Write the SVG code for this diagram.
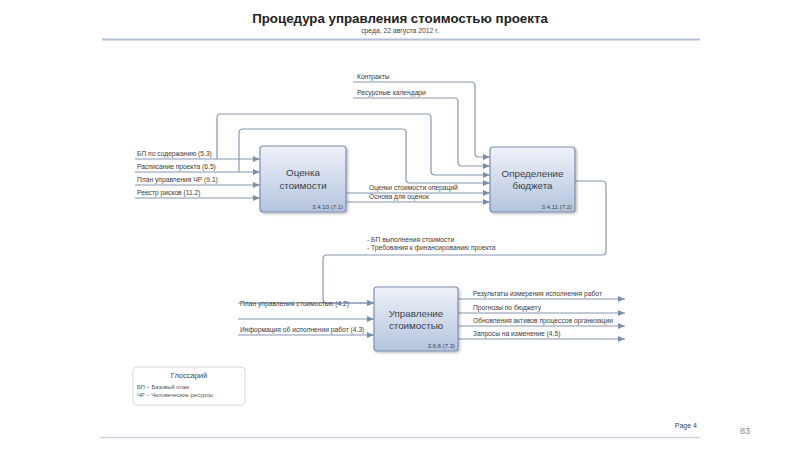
<svg xmlns="http://www.w3.org/2000/svg" width="800" height="450" viewBox="0 0 800 450">
<defs>
<linearGradient id="boxg" x1="0" y1="0" x2="0" y2="1">
<stop offset="0" stop-color="#eef2f9"/>
<stop offset="1" stop-color="#b4c4de"/>
</linearGradient>
<filter id="sh" x="-10%" y="-10%" width="130%" height="130%">
<feDropShadow dx="1.5" dy="1.5" stdDeviation="1.2" flood-color="#000" flood-opacity="0.25"/>
</filter>
<marker id="ah" markerWidth="8" markerHeight="6" refX="7" refY="3" orient="auto" markerUnits="userSpaceOnUse">
<path d="M0,0 L7,3 L0,6 Z" fill="#7f8fab"/>
</marker>
</defs>
<style>
text{font-family:"Liberation Sans",Arial,sans-serif;fill:#3a3a3a}
.lbl{font-size:6.7px}
.box{fill:url(#boxg);stroke:#7d8db0;stroke-width:1.2;filter:url(#sh)}
.bt{font-size:9.8px;text-anchor:middle;fill:#3a3f4a}
.num{font-size:6px;text-anchor:end;fill:#3a3f4a}
.c{fill:none;stroke:#8696b0;stroke-width:1.2}
.a{marker-end:url(#ah)}
</style>
<rect width="800" height="450" fill="#fff"/>
<g id="header">
<text x="400" y="23" font-size="13.3" font-weight="bold" text-anchor="middle" style="fill:#222">Процедура управления стоимостью проекта</text>
<text x="400" y="33" font-size="6.8" text-anchor="middle" style="fill:#444">среда, 22 августа 2012 г.</text>
<line x1="102" y1="39.5" x2="700" y2="39.5" stroke="#b3c2d6" stroke-width="2"/>
</g>
<g id="connectors">
<path class="c a" d="M135,159 H260"/>
<path class="c a" d="M135,172 H260"/>
<path class="c a" d="M135,185 H260"/>
<path class="c a" d="M135,198 H260"/>
<path class="c a" d="M217,159 V118 Q217,114 221,114 H427 Q431,114 431,118 V171 Q431,175 435,175 H490"/>
<path class="c a" d="M239,172 V133 Q239,129 243,129 H402 Q406,129 406,133 V179 Q406,183 410,183 H490"/>
<path class="c a" d="M353,82 H471 Q475,82 475,86 V153 Q475,157 479,157 H490"/>
<path class="c a" d="M353,98 H454 Q458,98 458,102 V162 Q458,166 462,166 H490"/>
<path class="c a" d="M346,193 H490"/>
<path class="c a" d="M346,202 H490"/>
<path class="c a" d="M575,181 H602 Q606,181 606,185 V251 Q606,255 602,255 H327 Q323,255 323,259 V299 Q323,303 327,303 H374"/>
<path class="c a" d="M238,303 H374"/>
<path class="c a" d="M238,319 H374"/>
<path class="c a" d="M238,335 H374"/>
<path class="c a" d="M458,299 H625"/>
<path class="c a" d="M458,313 H625"/>
<path class="c a" d="M458,326 H625"/>
<path class="c a" d="M458,339 H625"/>
</g>
<g id="labels">
<text class="lbl" x="137" y="156">БП по содержанию (5.3)</text>
<text class="lbl" x="137" y="169">Расписание проекта (6.5)</text>
<text class="lbl" x="137" y="182">План управления ЧР (9.1)</text>
<text class="lbl" x="137" y="195">Реестр рисков (11.2)</text>
<text class="lbl" x="357" y="79">Контракты</text>
<text class="lbl" x="357" y="95">Ресурсные календари</text>
<text class="lbl" x="369" y="190">Оценки стоимости операций</text>
<text class="lbl" x="369" y="199">Основа для оценок</text>
<text class="lbl" x="367" y="242">- БП выполнения стоимости</text>
<text class="lbl" x="367" y="250">- Требования к финансированию проекта</text>
<text class="lbl" x="240" y="306">План управления стоимостью (4.2)</text>
<text class="lbl" x="240" y="332">Информация об исполнении работ (4.3)</text>
<text class="lbl" x="473" y="296">Результаты измерения исполнения работ</text>
<text class="lbl" x="473" y="310">Прогнозы по бюджету</text>
<text class="lbl" x="473" y="323">Обновления активов процессов организации</text>
<text class="lbl" x="473" y="336">Запросы на изменение (4.5)</text>
</g>
<g id="node-estimate">
<rect class="box" x="260" y="146" width="86" height="66" rx="3"/>
<text class="bt" x="303" y="176">Оценка</text>
<text class="bt" x="303" y="189">стоимости</text>
<text class="num" x="343" y="209">3.4.10 (7.1)</text>
</g>
<g id="node-budget">
<rect class="box" x="490" y="147" width="85" height="65" rx="3"/>
<text class="bt" x="532.5" y="177">Определение</text>
<text class="bt" x="532.5" y="189">бюджета</text>
<text class="num" x="572" y="209">3.4.11 (7.2)</text>
</g>
<g id="node-control">
<rect class="box" x="374" y="287" width="84" height="64" rx="3"/>
<text class="bt" x="416" y="317">Управление</text>
<text class="bt" x="416" y="329">стоимостью</text>
<text class="num" x="455" y="348">3.6.6 (7.3)</text>
</g>
<g id="glossary">
<rect x="133" y="367" width="112" height="38" rx="4" fill="#fff" stroke="#d6d6d6" stroke-width="1"/>
<text x="189" y="378" font-size="7.5" text-anchor="middle" style="fill:#444">Глоссарий</text>
<text x="137" y="389" font-size="5.8" style="fill:#555">БП – Базовый план</text>
<text x="137" y="397" font-size="5.8" style="fill:#555">ЧР – Человеческие ресурсы</text>
</g>
<g id="footer">
<line x1="100" y1="437.5" x2="700" y2="437.5" stroke="#c9d4e0" stroke-width="1.5"/>
<text x="697" y="428" font-size="7" text-anchor="end" style="fill:#444">Page 4</text>
<text x="740" y="434" font-size="9" style="fill:#888">83</text>
</g>
</svg>
